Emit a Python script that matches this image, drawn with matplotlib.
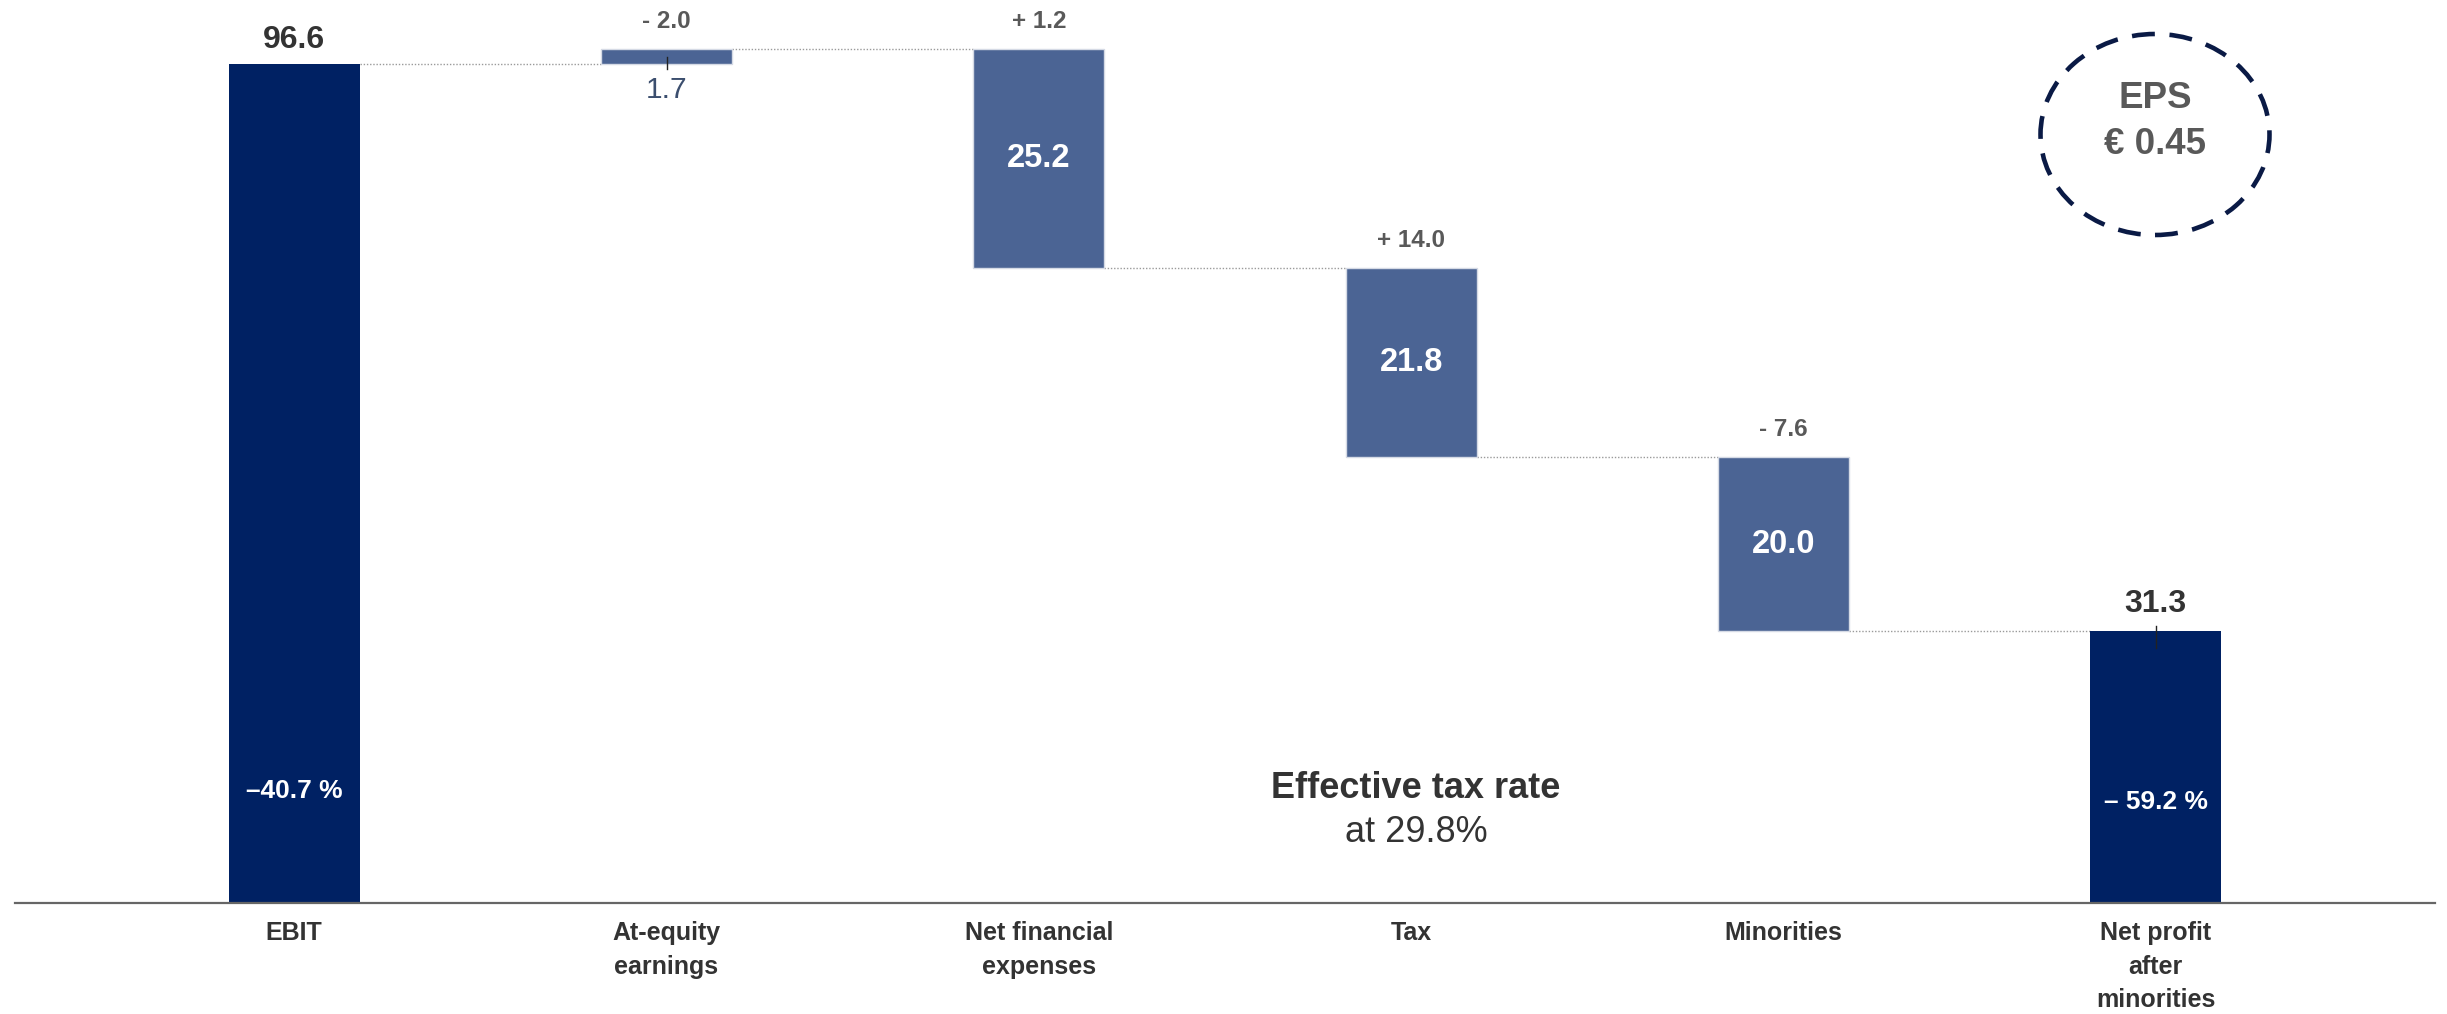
import matplotlib
matplotlib.use("Agg")
import matplotlib.pyplot as plt
from matplotlib.patches import Ellipse

plt.rcParams['font.family'] = ['Liberation Sans', 'DejaVu Sans']

# ---------------- data ----------------
categories = ["EBIT", "At-equity\nearnings", "Net financial\nexpenses", "Tax",
              "Minorities", "Net profit\nafter\nminorities"]
ebit = 96.6
steps = [1.7, -25.2, -21.8, -20.0]          # at-equity, fin. expenses, tax, minorities
net_profit = 31.3
change_labels = ["- 2.0", "+ 1.2", "+ 14.0", "- 7.6"]
total_pct_labels = ["\u201340.7 %", "\u2013 59.2 %"]
eps_text = "EPS\n\u20ac 0.45"
tax_note_bold = "Effective tax rate"
tax_note = "at 29.8%"

# ---------------- colours ----------------
NAVY = "#002163"
MID = "#4B6494"
DARK = "#333333"
GREY = "#595959"
VALBLUE = "#3B4E6E"

W, H = 2447, 1014
fig = plt.figure(figsize=(W / 100, H / 100), dpi=100)
ax_left, ax_right, ax_bottom_px = 15, 2435, 903
ax = fig.add_axes([ax_left / W, (H - ax_bottom_px) / H, (ax_right - ax_left) / W, ax_bottom_px / H])
px_per_unit = 8.685
ax.set_ylim(0, ax_bottom_px / px_per_unit)
ax.set_xlim(-0.75, len(categories) - 0.25)
bw = 0.352

# ---------------- bars ----------------
ax.bar(0, ebit, width=bw, color=NAVY, linewidth=0, zorder=3)
ax.bar(len(categories) - 1, net_profit, width=bw, color=NAVY, linewidth=0, zorder=3)

levels = [ebit]
for s in steps:
    levels.append(levels[-1] + s)

for i, s in enumerate(steps):
    start, end = levels[i], levels[i + 1]
    lo, hi = min(start, end), max(start, end)
    ax.bar(i + 1, hi - lo, bottom=lo, width=bw, color=MID, edgecolor="#D5DAE5",
           linewidth=1.0, zorder=3)

# connectors
conn_levels = [ebit] + levels[1:]
for i, lv in enumerate(conn_levels):
    ax.plot([i + bw / 2, i + 1 - bw / 2], [lv, lv], color="#9A9A9A", lw=1.0,
            linestyle=(0, (1, 1.3)), zorder=2)

def off(px):
    return px * 0.72

# total labels
ax.annotate(f"{ebit:.1f}", (0, ebit), xytext=(0, off(24)), textcoords="offset points",
            ha="center", va="center", fontsize=23, fontweight="bold", color=DARK)
ax.annotate(f"{net_profit:.1f}", (len(categories) - 1, net_profit), xytext=(0, off(27)),
            textcoords="offset points", ha="center", va="center", fontsize=23,
            fontweight="bold", color=DARK)

# step labels
for i, s in enumerate(steps):
    start, end = levels[i], levels[i + 1]
    top = max(start, end)
    ax.annotate(change_labels[i], (i + 1, top), xytext=(0, off(28)), textcoords="offset points",
                ha="center", va="center", fontsize=17.5, fontweight="bold", color=GREY)
    if abs(s) < 5:
        ax.annotate(f"{abs(s):.1f}", (i + 1, min(start, end)), xytext=(0, off(-26)),
                    textcoords="offset points", ha="center", va="center", fontsize=21.5,
                    color=VALBLUE)
        ax.plot([i + 1, i + 1], [start + 0.8, start - 0.6], color="#222222", lw=1.0, zorder=4)
    else:
        ax.text(i + 1, (start + end) / 2, f"{abs(s):.1f}", ha="center", va="center",
                fontsize=23.5, fontweight="bold", color="white", zorder=5)

# small tick on net profit bar
n = len(categories) - 1
ax.plot([n, n], [net_profit + 0.6, net_profit - 1.9], color="#222222", lw=1.0, zorder=4)

# percentage labels inside totals
ax.annotate(total_pct_labels[0], (0, 0), xytext=(0, off(112)), textcoords="offset points",
            ha="center", va="center", fontsize=19, fontweight="bold", color="white", zorder=5)
ax.annotate(total_pct_labels[1], (n, 0), xytext=(0, off(101)), textcoords="offset points",
            ha="center", va="center", fontsize=19, fontweight="bold", color="white", zorder=5)

# effective tax rate note
ax.annotate(tax_note_bold, (3, 0), xytext=(off(5), off(114)), textcoords="offset points",
            ha="center", va="center", fontsize=26, fontweight="bold", color=DARK)
ax.annotate(tax_note, (3, 0), xytext=(off(5), off(70)), textcoords="offset points",
            ha="center", va="center", fontsize=26, color=DARK)

# EPS ellipse
cx, cy, ew, eh = 2155, 134.5, 229, 201
ell = Ellipse((cx / W, 1 - cy / H), ew / W, eh / H, transform=fig.transFigure,
              fill=False, edgecolor="#0A1A45", lw=3.3, linestyle=(0, (5, 3.2)))
fig.patches.append(ell)
fig.text(cx / W, 1 - 99 / H, eps_text.split("\n")[0], ha="center", va="center",
         fontsize=26.5, fontweight="bold", color=GREY)
fig.text(cx / W, 1 - 144 / H, eps_text.split("\n")[1], ha="center", va="center",
         fontsize=26.5, fontweight="bold", color=GREY)

# axes styling
for sp in ["top", "right", "left"]:
    ax.spines[sp].set_visible(False)
ax.spines["bottom"].set_color("#666666")
ax.spines["bottom"].set_linewidth(1.6)
ax.spines["bottom"].set_zorder(6)
ax.set_yticks([])
ax.set_xticks(range(len(categories)))
ax.set_xticklabels(categories, fontsize=18, fontweight="bold", color=DARK, linespacing=1.5)
ax.tick_params(axis="x", length=0, pad=13)

fig.savefig("out.png", dpi=100, facecolor="white")
